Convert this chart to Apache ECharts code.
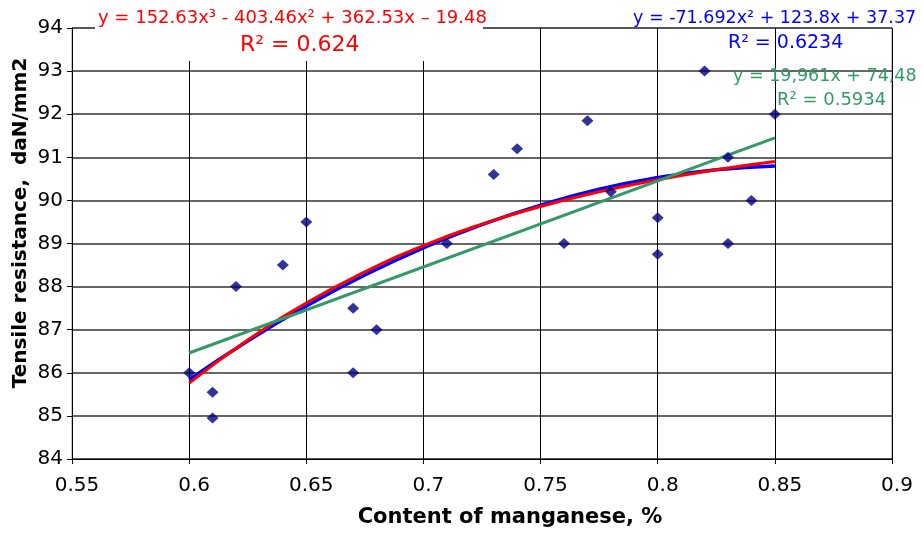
<!DOCTYPE html>
<html>
<head>
<meta charset="utf-8">
<script src="https://cdn.jsdelivr.net/npm/echarts@6/dist/echarts.min.js"></script>
<style>
  html, body { margin: 0; padding: 0; background: #fff; }
  #main { width: 923px; height: 536px; }
</style>
</head>
<body>
<div id="main"></div>
<script>
// measured points: manganese content vs tensile resistance
var manganese = [0.60, 0.61, 0.61, 0.62, 0.64, 0.65, 0.67, 0.67, 0.68, 0.71, 0.73,
                 0.74, 0.76, 0.77, 0.78, 0.80, 0.80, 0.82, 0.83, 0.83, 0.84, 0.85];
var resistance = [86.0, 85.55, 84.95, 88.0, 88.5, 89.5, 87.5, 86.0, 87.0, 89.0, 90.6,
                  91.2, 89.0, 91.85, 90.2, 89.6, 88.75, 93.0, 91.0, 89.0, 90.0, 92.0];

// trend lines
var trendX = [0.6, 0.625, 0.65, 0.675, 0.7, 0.725, 0.75, 0.775, 0.8, 0.825, 0.85];
var cubicY = [85.76, 86.76, 87.62, 88.34, 88.95, 89.45, 89.86, 90.20, 90.48, 90.71, 90.90];
var quadY  = [85.84, 86.74, 87.55, 88.27, 88.90, 89.44, 89.89, 90.26, 90.53, 90.71, 90.80];
var linX = [0.6, 0.85];
var linY = [86.46, 91.45];

function pairs(xs, ys) {
  return xs.map(function (x, i) { return [x, ys[i]]; });
}

var myChart = echarts.init(document.getElementById('main'));
var font = '"DejaVu Sans", sans-serif';

var option = {
  animation: false,
  backgroundColor: '#fff',
  grid: { left: 72, right: 31, top: 28, bottom: 77, show: true, borderColor: '#888', borderWidth: 1 },
  xAxis: {
    type: 'value', min: 0.55, max: 0.9, interval: 0.05,
    axisLine: { lineStyle: { color: '#000', width: 1 } },
    axisTick: { show: true, inside: false, length: 5, lineStyle: { color: '#000' } },
    axisLabel: { fontFamily: font, fontSize: 20, color: '#000', margin: 17, padding: [0, 0, 0, 10],
      formatter: function (v) { return String(+v.toFixed(2)); } },
    splitLine: { show: true, lineStyle: { color: '#000', width: 1 } }
  },
  yAxis: {
    type: 'value', min: 84, max: 94, interval: 1,
    axisLine: { show: true, lineStyle: { color: '#000', width: 1 } },
    axisTick: { show: true, inside: false, length: 5, lineStyle: { color: '#000' } },
    axisLabel: { fontFamily: font, fontSize: 20, color: '#000', margin: 9, padding: [5, 0, 0, 0] },
    splitLine: { show: true, lineStyle: { color: '#333', width: 1.5 } }
  },
  series: [
    {
      name: 'quadratic', type: 'line', data: pairs(trendX, quadY), smooth: true,
      showSymbol: false, lineStyle: { color: '#0000ff', width: 3.5 }, z: 3
    },
    {
      name: 'cubic', type: 'line', data: pairs(trendX, cubicY), smooth: true,
      showSymbol: false, lineStyle: { color: '#ff0000', width: 3 }, z: 4
    },
    {
      name: 'linear', type: 'line', data: pairs(linX, linY),
      showSymbol: false, lineStyle: { color: '#339966', width: 3 }, z: 5
    },
    {
      name: 'data', type: 'scatter', data: pairs(manganese, resistance),
      symbol: 'diamond', symbolSize: [12, 11], itemStyle: { color: '#000080' }, z: 6
    }
  ],
  graphic: [
    // white label box of the cubic trend line
    { type: 'rect', shape: { x: 95, y: 0, width: 388, height: 61 }, z: 9,
      style: { fill: '#fff' } },
    { type: 'text', x: 98, y: 18, z: 10,
      style: { text: 'y = 152.63x³ - 403.46x² + 362.53x – 19.48', fill: '#ff0000',
        font: '18px ' + font, verticalAlign: 'middle' } },
    { type: 'text', x: 240, y: 45, z: 10,
      style: { text: 'R² = 0.624', fill: '#ff0000', font: '22px ' + font, verticalAlign: 'middle' } },
    { type: 'text', x: 633, y: 18, z: 10,
      style: { text: 'y = -71.692x² + 123.8x + 37.37', fill: '#0000ff', font: '17.5px ' + font, verticalAlign: 'middle' } },
    { type: 'text', x: 728, y: 43, z: 10,
      style: { text: 'R² = 0.6234', fill: '#0000ff', font: '19px ' + font, verticalAlign: 'middle' } },
    { type: 'text', x: 733, y: 76, z: 10,
      style: { text: 'y = 19,961x + 74,48', fill: '#339966', font: '17.5px ' + font, verticalAlign: 'middle' } },
    { type: 'text', x: 777, y: 100, z: 10,
      style: { text: 'R² = 0.5934', fill: '#339966', font: '18px ' + font, verticalAlign: 'middle' } },
    // axis titles
    { type: 'text', x: 510, y: 518, z: 10,
      style: { text: 'Content of manganese, %', fill: '#000', font: 'bold 21px ' + font,
        align: 'center', verticalAlign: 'middle' } },
    { type: 'text', x: 21, y: 223, rotation: Math.PI / 2, z: 10,
      style: { text: 'Tensile resistance,  daN/mm2', fill: '#000', font: 'bold 20px ' + font,
        align: 'center', verticalAlign: 'middle' } }
  ]
};

myChart.setOption(option);
</script>
</body>
</html>
